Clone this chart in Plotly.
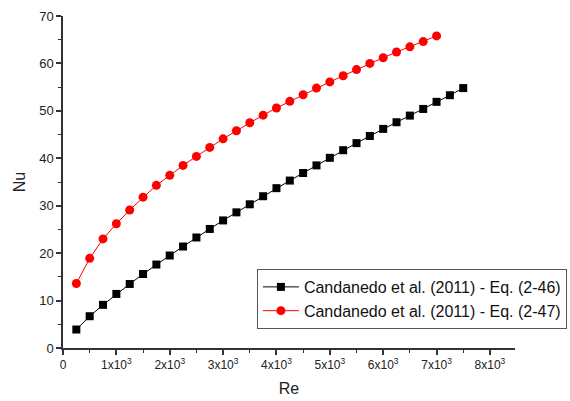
import plotly.graph_objects as go

re_black = [250, 500, 750, 1000, 1250, 1500, 1750, 2000, 2250, 2500, 2750, 3000, 3250, 3500, 3750,
            4000, 4250, 4500, 4750, 5000, 5250, 5500, 5750, 6000, 6250, 6500, 6750, 7000, 7250, 7500]
nu_black = [3.9, 6.7, 9.1, 11.4, 13.5, 15.6, 17.6, 19.5, 21.4, 23.3, 25.1, 26.9, 28.6, 30.3, 32.0,
            33.7, 35.3, 36.9, 38.5, 40.1, 41.7, 43.2, 44.7, 46.2, 47.6, 49.0, 50.4, 51.9, 53.3, 54.8]

re_red = [250, 500, 750, 1000, 1250, 1500, 1750, 2000, 2250, 2500, 2750, 3000, 3250, 3500,
          3750, 4000, 4250, 4500, 4750, 5000, 5250, 5500, 5750, 6000, 6250, 6500, 6750, 7000]
nu_red = [13.6, 18.9, 23.0, 26.2, 29.1, 31.8, 34.3, 36.4, 38.5, 40.4, 42.3, 44.1, 45.8, 47.5,
          49.1, 50.6, 52.0, 53.4, 54.8, 56.1, 57.4, 58.7, 60.0, 61.2, 62.4, 63.5, 64.6, 65.8]

x_tickvals = [0, 1000, 2000, 3000, 4000, 5000, 6000, 7000, 8000]
x_ticktext = ["0"] + [f"{i}x10<sup>3</sup>" for i in range(1, 9)]
y_tickvals = [0, 10, 20, 30, 40, 50, 60, 70]

label_black = "Candanedo et al. (2011) - Eq. (2-46)"
label_red = "Candanedo et al. (2011) - Eq. (2-47)"

FONT = "Liberation Sans, Arial, sans-serif"

fig = go.Figure()
fig.add_trace(go.Scatter(x=re_black, y=nu_black, mode="lines+markers", name=label_black,
                         line=dict(color="black", width=1),
                         marker=dict(symbol="square", size=8, color="black")))
fig.add_trace(go.Scatter(x=re_red, y=nu_red, mode="lines+markers", name=label_red,
                         line=dict(color="red", width=1),
                         marker=dict(symbol="circle", size=9, color="red")))

axis_common = dict(showgrid=False, zeroline=False, showline=True, linecolor="#333333", linewidth=1.5,
                   ticks="outside", ticklen=5, tickwidth=1.5, tickcolor="#333333",
                   minor=dict(ticks="outside", ticklen=3, tickwidth=1, tickcolor="#333333"))

fig.update_xaxes(range=[0, 8470], tickvals=x_tickvals, ticktext=x_ticktext,
                 minor_dtick=500,
                 tickfont=dict(family=FONT, size=12, color="#222222"),
                 title=dict(text="Re", font=dict(family=FONT, size=16, color="#222222"), standoff=12),
                 **axis_common)
fig.update_yaxes(range=[0, 70], tickvals=y_tickvals, minor_dtick=5,
                 tickfont=dict(family=FONT, size=13, color="#222222"),
                 title=dict(text="Nu", font=dict(family=FONT, size=16, color="#222222"), standoff=10),
                 **axis_common)

fig.update_layout(width=570, height=401,
                  margin=dict(l=63, r=55, t=16, b=53, autoexpand=False),
                  plot_bgcolor="white", paper_bgcolor="white",
                  legend=dict(x=0.429, y=0.238, xanchor="left", yanchor="top",
                              bordercolor="#555555", borderwidth=1, bgcolor="white",
                              font=dict(family=FONT, size=16, color="#111111"),
                              tracegroupgap=0, itemwidth=36),
                  showlegend=True)

fig.write_html("out.html")
